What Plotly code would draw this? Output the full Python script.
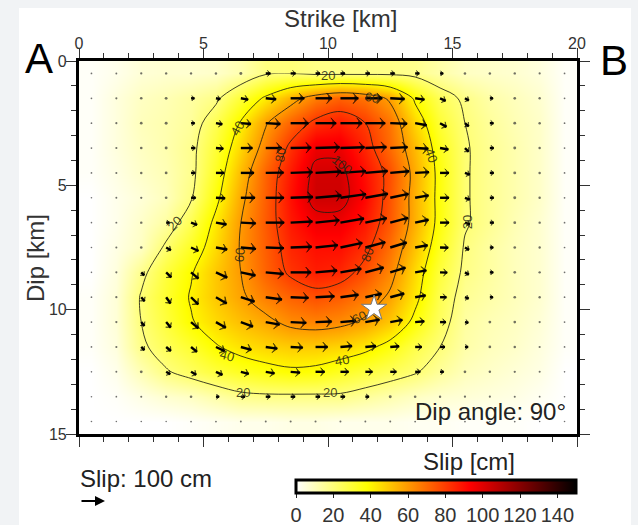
import numpy as np
import plotly.graph_objects as go

strike_km = [i + 0.5 for i in range(20)]
dip_km = [i + 0.5 for i in range(15)]

slip_cm = [
    [1, 3, 6, 7, 7, 8, 12, 19, 20, 18, 18, 18, 18, 17, 13, 9, 8, 7, 5, 1],
    [1, 5, 9, 11, 14, 18, 30, 42, 55, 66, 72, 68, 58, 38, 25, 18, 13, 10, 7, 1],
    [1, 5, 10, 12, 15, 26, 41, 59, 72, 83, 87, 80, 68, 47, 30, 20, 15, 11, 8, 1],
    [1, 5, 9, 12, 17, 30, 47, 65, 83, 97, 97, 85, 70, 53, 34, 21, 16, 12, 8, 1],
    [1, 4, 8, 11, 17, 33, 53, 72, 88, 103, 103, 90, 76, 56, 36, 21, 16, 12, 8, 1],
    [0, 3, 6, 10, 19, 37, 57, 73, 90, 104, 104, 92, 75, 55, 36, 21, 16, 12, 8, 1],
    [0, 3, 8, 14, 26, 43, 60, 74, 88, 96, 96, 88, 74, 55, 36, 21, 16, 11, 7, 1],
    [0, 4, 9, 22, 33, 46, 61, 73, 85, 90, 90, 83, 69, 51, 33, 19, 14, 10, 7, 1],
    [0, 5, 17, 29, 39, 50, 60, 72, 82, 87, 85, 76, 64, 46, 29, 18, 14, 10, 7, 1],
    [1, 6, 21, 31, 41, 50, 58, 66, 72, 76, 73, 67, 58, 43, 26, 16, 13, 10, 7, 1],
    [1, 6, 20, 29, 39, 46, 52, 57, 63, 65, 63, 58, 50, 37, 24, 14, 11, 9, 6, 1],
    [1, 5, 18, 25, 31, 39, 44, 47, 49, 49, 47, 43, 36, 27, 20, 13, 10, 8, 5, 1],
    [0, 3, 11, 19, 24, 29, 33, 36, 38, 37, 33, 29, 25, 21, 15, 10, 8, 6, 4, 0],
    [0, 1, 4, 7, 9, 13, 17, 18, 18, 18, 18, 15, 12, 9, 7, 6, 5, 4, 2, 0],
    [0, 0, 0, 0, 1, 2, 3, 3, 4, 4, 3, 3, 3, 2, 2, 1, 1, 1, 0, 0],
]

rake_deg = [
    [0] * 20,
    [0, 0, 0, 0, 0, -10, -10, -5, 0, 0, 0, 0, -3, -8, -25, -30, 0, 0, 0, 0],
    [0, 0, 0, 0, 0, -10, -5, -3, 0, 0, 0, 0, -2, -10, -30, -40, 0, 0, 0, 0],
    [0, 0, 0, 0, 0, -5, 0, 0, 1, 2, 2, 3, 3, -3, -10, -45, 0, 0, 0, 0],
    [0, 0, 0, 0, 0, 0, 0, 1, 2, 3, 4, 5, 5, 3, 0, -20, 0, 0, 0, 0],
    [0, 0, 0, 0, 0, -3, 0, 0, 2, 5, 8, 10, 12, 10, 0, -20, 0, 0, 0, 0],
    [0, 0, 0, 0, -20, -10, -3, 0, 3, 6, 10, 12, 15, 12, 0, -20, 0, 0, 0, 0],
    [0, 0, 0, -30, -25, -10, -5, -2, 2, 6, 12, 15, 17, 10, -2, -30, 0, 0, 0, 0],
    [0, 0, -45, -45, -40, -25, -12, -5, 0, 5, 10, 15, 17, 10, -2, -30, 0, 0, 0, 0],
    [0, 0, -50, -55, -45, -30, -18, -8, -2, 3, 8, 12, 15, 10, 0, -20, 0, 0, 0, 0],
    [0, 0, -50, -50, -40, -30, -20, -10, -3, 2, 5, 10, 10, 5, 0, -10, 0, 0, 0, 0],
    [0, 0, -45, -40, -40, -25, -15, -8, -3, 0, 5, 5, 5, 0, 0, 0, 0, 0, 0, 0],
    [0, 0, -30, -30, -30, -25, -15, -10, -5, 0, 0, 0, 0, 0, 0, 0, 0, 0, 0, 0],
    [0] * 20,
    [0] * 20,
]

contour_labels = [
    ("20", 10.0, 0.6, 0), ("40", 6.35, 2.7, -60), ("80", 8.07, 3.78, -80),
    ("60", 11.75, 1.45, 10), ("40", 14.15, 3.8, 70), ("100", 10.55, 4.18, 40),
    ("20", 15.6, 6.47, -90), ("20", 3.85, 6.55, -45), ("60", 6.47, 7.8, -85),
    ("80", 11.6, 7.8, -70), ("60", 11.25, 10.3, -25), ("40", 5.94, 11.85, 15),
    ("40", 10.55, 12.05, -10), ("20", 6.6, 13.35, 0), ("20", 10.1, 13.35, 0),
]

hypocenter = (11.85, 9.95)
colors = [[0, "#ffffff"], [38 / 150, "#ffff00"], [93 / 150, "#ff0000"], [1, "#000000"]]
cb_ticks = [0, 20, 40, 60, 80, 100, 120, 140]

FONT = "Liberation Sans, Arial, sans-serif"
fig = go.Figure()

fig.add_trace(go.Heatmap(
    x=strike_km, y=dip_km, z=slip_cm, zmin=0, zmax=150, zsmooth="best",
    colorscale=colors, hoverinfo="skip",
    colorbar=dict(
        orientation="h", x=(296 - 79) / 498, xanchor="left", xref="paper",
        y=(434 - 528) / 373, yanchor="bottom", yref="paper",
        len=280 / 498, lenmode="fraction", thickness=13, thicknessmode="pixels",
        outlinewidth=3, outlinecolor="black", borderwidth=0, xpad=0, ypad=0,
        tickmode="array", tickvals=cb_ticks, ticks="outside", ticklen=4,
        tickwidth=1, tickcolor="#222",
        tickfont=dict(family=FONT, size=20, color="#333"),
    ),
))

fig.add_trace(go.Contour(
    x=strike_km, y=dip_km, z=slip_cm, autocontour=False,
    contours=dict(start=20, end=100, size=20, coloring="none"),
    line=dict(color="rgba(30,30,20,0.85)", width=1, smoothing=1),
    showscale=False, hoverinfo="skip",
))

sx, sy, hx, hy, ha, hs, dx, dy, ds = [], [], [], [], [], [], [], [], []
for j, yy in enumerate(dip_km):
    for i, xx in enumerate(strike_km):
        z = slip_cm[j][i]
        r = np.deg2rad(rake_deg[j][i])
        if z < 13:
            dx.append(xx)
            dy.append(yy)
            ds.append(1.6 + z * 0.11)
            continue
        tx = xx + z / 100 * np.cos(r)
        ty = yy - z / 100 * np.sin(r)
        sx += [xx, tx, None]
        sy += [yy, ty, None]
        hx.append(tx)
        hy.append(ty)
        ha.append(90 - rake_deg[j][i])
        hs.append(min(7.5, 2.5 + z * 0.09))

fig.add_trace(go.Scatter(x=dx, y=dy, mode="markers", hoverinfo="skip",
                         marker=dict(size=ds, color="#333", line_width=0)))
fig.add_trace(go.Scatter(x=sx, y=sy, mode="lines", hoverinfo="skip",
                         line=dict(color="black", width=2.4)))
fig.add_trace(go.Scatter(x=hx, y=hy, mode="markers", hoverinfo="skip",
                         marker=dict(symbol="arrow-wide", size=hs, angle=ha, color="black",
                                     line=dict(color="black", width=0.8))))
fig.add_trace(go.Scatter(x=[hypocenter[0]], y=[hypocenter[1]], mode="markers", hoverinfo="skip",
                         marker=dict(symbol="star", size=19, color="white",
                                     line=dict(color="#777", width=1))))

axis = dict(
    showgrid=False, zeroline=False, showline=True, linecolor="black", linewidth=3.2,
    mirror="allticks", ticks="outside", ticklen=10, tickwidth=1, tickcolor="#333",
    tickfont=dict(family=FONT, size=16, color="#333"), automargin=False,
    minor=dict(ticks="outside", ticklen=5, tickwidth=1, tickcolor="#333", dtick=1, showgrid=False),
    dtick=5, tick0=0,
)
fig.update_layout(
    width=638, height=525, autosize=False,
    margin=dict(l=79, r=61, t=61, b=91, pad=0, autoexpand=False),
    paper_bgcolor="#f1f3f5", plot_bgcolor="white", showlegend=False,
    xaxis=dict(axis, range=[0, 20], side="top", ticklabelstandoff=-7),
    yaxis=dict(axis, range=[15, 0], ticklabelstandoff=-4),
    shapes=[dict(type="rect", xref="paper", yref="paper", layer="below",
                 x0=(19 - 79) / 498, x1=(631 - 79) / 498,
                 y0=(434 - 525) / 373, y1=(434 - 8) / 373,
                 fillcolor="white", line_width=0)],
)

def px_note(text, px, py, size, xanchor="center", color="#333", angle=0):
    fig.add_annotation(text=text, xref="paper", yref="paper", showarrow=False, textangle=angle,
                       x=(px - 79) / 498, y=(434 - py) / 373, xanchor=xanchor, yanchor="middle",
                       font=dict(family=FONT, size=size, color=color))

px_note("A", 39, 58, 42, color="black")
px_note("B", 614, 60, 42, color="black")
px_note("Strike [km]", 340, 19, 24)
px_note("Dip [km]", 35, 258, 24, angle=-90)
px_note("Slip: 100 cm", 78, 478, 24, "left", "#222")
px_note("Slip [cm]", 469, 461, 24, color="#222")
px_note("Dip angle: 90°", 568, 411, 24, "right", "#222")

fig.add_annotation(xref="paper", yref="paper",
                   x=(105 - 79) / 498, y=(434 - 501) / 373, ax=-25, ay=0,
                   text="", showarrow=True, arrowhead=2, arrowsize=1, arrowwidth=2, arrowcolor="black")

for txt, x, y, rot in contour_labels:
    fig.add_annotation(text=txt, x=x, y=y, xref="x", yref="y", showarrow=False, textangle=rot,
                       font=dict(family=FONT, size=13, color="rgba(40,40,20,0.85)"))

fig.write_html("out.html", config={"displayModeBar": False},
               post_script="document.body.style.margin='0';document.documentElement.style.overflow='hidden';")
